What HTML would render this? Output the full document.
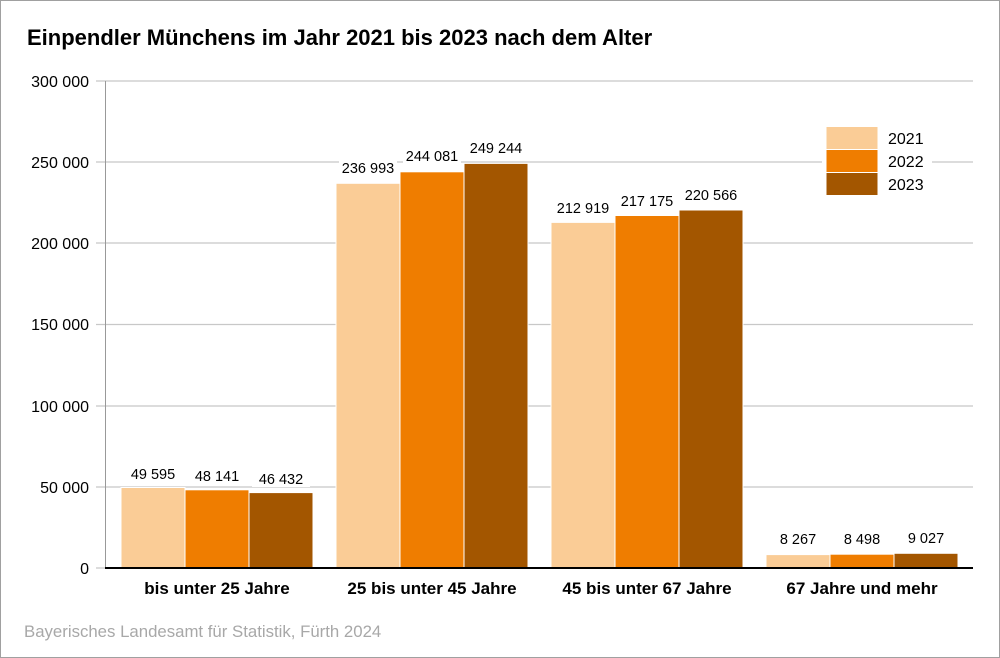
<!DOCTYPE html>
<html><head><meta charset="utf-8"><style>
html,body{margin:0;padding:0;background:#fff}
svg{display:block}
text{font-family:"Liberation Sans",Arial,sans-serif}
</style></head><body>
<svg width="1000" height="658" viewBox="0 0 1000 658">
<rect x="0.5" y="0.5" width="999" height="657" fill="#fff" stroke="#a0a0a0"/>
<text x="27" y="45" font-size="22" font-weight="bold" fill="#000">Einpendler Münchens im Jahr 2021 bis 2023 nach dem Alter</text>
<g stroke="#c8c8c8" stroke-width="1.3">
<line x1="96" y1="81" x2="973" y2="81"/>
<line x1="96" y1="162" x2="973" y2="162"/>
<line x1="96" y1="243" x2="973" y2="243"/>
<line x1="96" y1="324.5" x2="973" y2="324.5"/>
<line x1="96" y1="406" x2="973" y2="406"/>
<line x1="96" y1="487" x2="973" y2="487"/>
<line x1="96" y1="568" x2="105" y2="568"/>
</g>
<line x1="105.5" y1="81" x2="105.5" y2="568" stroke="#999"/>
<g font-size="16" fill="#000" text-anchor="end">
<text x="89" y="87">300 000</text>
<text x="89" y="168">250 000</text>
<text x="89" y="249">200 000</text>
<text x="89" y="330">150 000</text>
<text x="89" y="412">100 000</text>
<text x="89" y="493">50 000</text>
<text x="89" y="574">0</text>
</g>
<g stroke="#fff" stroke-width="1">
<rect x="121" y="487.5" width="64" height="80.5" fill="#FACC96"/>
<rect x="185" y="489.8" width="64" height="78.2" fill="#EF7D00"/>
<rect x="249" y="492.6" width="64" height="75.4" fill="#A35600"/>
<rect x="336" y="183.3" width="64" height="384.7" fill="#FACC96"/>
<rect x="400" y="171.8" width="64" height="396.2" fill="#EF7D00"/>
<rect x="464" y="163.4" width="64" height="404.6" fill="#A35600"/>
<rect x="551" y="222.4" width="64" height="345.6" fill="#FACC96"/>
<rect x="615" y="215.5" width="64" height="352.5" fill="#EF7D00"/>
<rect x="679" y="210" width="64" height="358" fill="#A35600"/>
<rect x="766" y="554.6" width="64" height="13.4" fill="#FACC96"/>
<rect x="830" y="554.2" width="64" height="13.8" fill="#EF7D00"/>
<rect x="894" y="553.3" width="64" height="14.7" fill="#A35600"/>
</g>
<line x1="105" y1="568" x2="973" y2="568" stroke="#000" stroke-width="2"/>
<g font-size="14.5" fill="#000" text-anchor="middle">
<rect x="124" y="462" width="58" height="20" fill="#fff"/><text x="153" y="479">49 595</text>
<rect x="188" y="464" width="58" height="20" fill="#fff"/><text x="217" y="481">48 141</text>
<rect x="252" y="467" width="58" height="20" fill="#fff"/><text x="281" y="484">46 432</text>
<rect x="339" y="158" width="58" height="20" fill="#fff"/><text x="368" y="173">236 993</text>
<rect x="403" y="146" width="58" height="20" fill="#fff"/><text x="432" y="161">244 081</text>
<rect x="467" y="138" width="58" height="20" fill="#fff"/><text x="496" y="153">249 244</text>
<text x="583" y="213">212 919</text>
<text x="647" y="206">217 175</text>
<text x="711" y="200">220 566</text>
<text x="798" y="544">8 267</text>
<text x="862" y="544">8 498</text>
<text x="926" y="543">9 027</text>
</g>
<g font-size="17" font-weight="bold" fill="#000" text-anchor="middle">
<text x="217" y="594">bis unter 25 Jahre</text>
<text x="432" y="594">25 bis unter 45 Jahre</text>
<text x="647" y="594">45 bis unter 67 Jahre</text>
<text x="862" y="594">67 Jahre und mehr</text>
</g>
<rect x="822" y="122" width="110" height="78" fill="#fff"/>
<g stroke="#fff" stroke-width="1">
<rect x="826" y="126.5" width="52" height="23" fill="#FACC96"/>
<rect x="826" y="149.5" width="52" height="23" fill="#EF7D00"/>
<rect x="826" y="172.5" width="52" height="23" fill="#A35600"/>
</g>
<g font-size="16" fill="#000">
<text x="888" y="144">2021</text>
<text x="888" y="167">2022</text>
<text x="888" y="190">2023</text>
</g>
<text x="24" y="637" font-size="16.8" fill="#a8a8a8">Bayerisches Landesamt für Statistik, Fürth 2024</text>
</svg>
</body></html>
